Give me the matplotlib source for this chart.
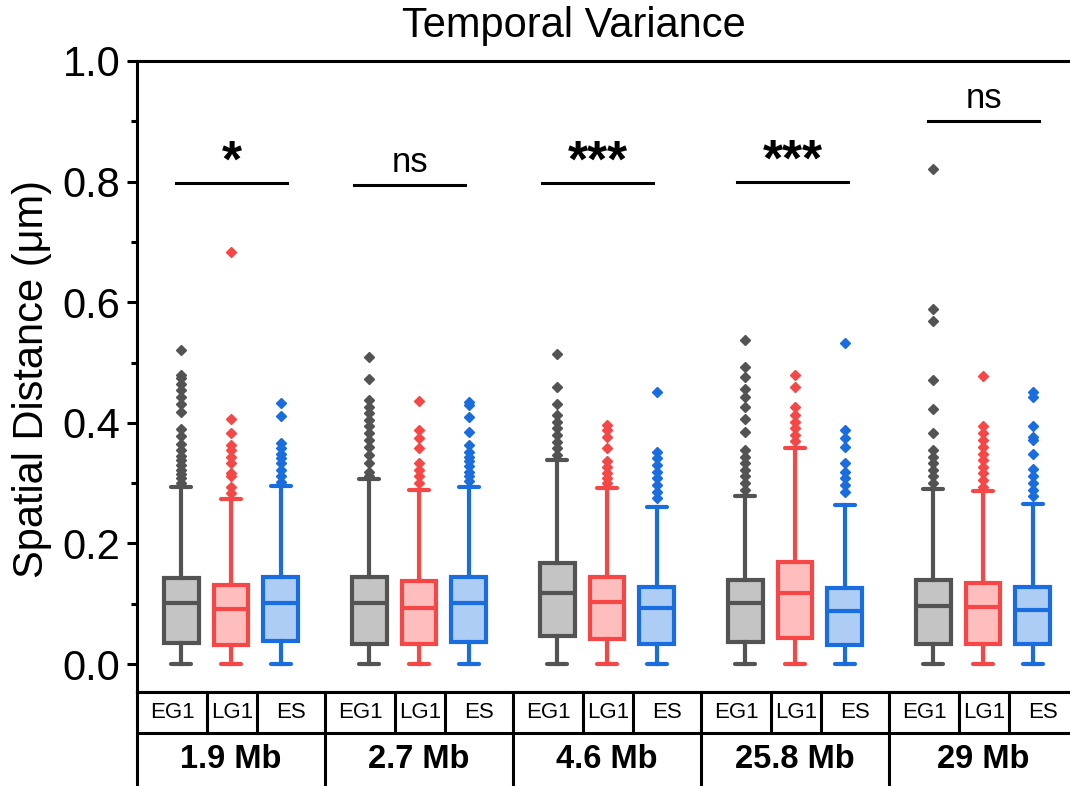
import matplotlib
matplotlib.use("Agg")
import matplotlib.pyplot as plt

plt.rcParams['font.family'] = ['Liberation Sans', 'DejaVu Sans']

# regions and conditions
regions = ["1.9 Mb", "2.7 Mb", "4.6 Mb", "25.8 Mb", "29 Mb"]
conditions = ["EG1", "LG1", "ES"]

# box statistics (um), one row per region, order EG1, LG1, ES
q1 = [[0.035, 0.032, 0.039],
      [0.034, 0.033, 0.037],
      [0.046, 0.041, 0.034],
      [0.037, 0.043, 0.032],
      [0.034, 0.033, 0.033]]
med = [[0.102, 0.091, 0.102],
       [0.102, 0.093, 0.102],
       [0.117, 0.103, 0.093],
       [0.102, 0.117, 0.088],
       [0.096, 0.095, 0.090]]
q3 = [[0.142, 0.131, 0.144],
      [0.145, 0.137, 0.144],
      [0.167, 0.145, 0.128],
      [0.140, 0.169, 0.126],
      [0.139, 0.135, 0.128]]
whis_hi = [[0.293, 0.274, 0.295],
           [0.306, 0.289, 0.294],
           [0.339, 0.292, 0.261],
           [0.279, 0.358, 0.264],
           [0.291, 0.287, 0.266]]
whis_lo = [[0.0, 0.0, 0.0],
           [0.0, 0.0, 0.0],
           [0.0, 0.0, 0.0],
           [0.0, 0.0, 0.0],
           [0.0, 0.0, 0.0]]

# outliers
fliers = [
    [[0.521, 0.479, 0.474, 0.465, 0.455, 0.443, 0.432, 0.418, 0.39, 0.378, 0.365,
      0.355, 0.345, 0.338, 0.33, 0.322, 0.315, 0.308, 0.30],
     [0.683, 0.406, 0.383, 0.363, 0.355, 0.344, 0.333, 0.316, 0.311, 0.294, 0.283],
     [0.433, 0.411, 0.366, 0.358, 0.349, 0.341, 0.333, 0.322, 0.311, 0.302]],
    [[0.509, 0.472, 0.438, 0.427, 0.416, 0.405, 0.394, 0.383, 0.371, 0.36, 0.347,
      0.333, 0.319, 0.312],
     [0.436, 0.388, 0.374, 0.358, 0.333, 0.322, 0.311, 0.30],
     [0.435, 0.43, 0.41, 0.384, 0.363, 0.352, 0.344, 0.336, 0.328, 0.319, 0.311, 0.303]],
    [[0.514, 0.46, 0.432, 0.413, 0.402, 0.391, 0.38, 0.369, 0.358, 0.347],
     [0.396, 0.388, 0.377, 0.358, 0.336, 0.327, 0.316, 0.308, 0.30],
     [0.451, 0.352, 0.341, 0.33, 0.319, 0.308, 0.297, 0.286, 0.275]],
    [[0.538, 0.492, 0.476, 0.456, 0.443, 0.427, 0.407, 0.385, 0.355, 0.344, 0.333,
      0.322, 0.311, 0.30, 0.289],
     [0.479, 0.46, 0.427, 0.413, 0.402, 0.391, 0.38, 0.37],
     [0.533, 0.388, 0.374, 0.36, 0.333, 0.319, 0.308, 0.297, 0.286]],
    [[0.821, 0.589, 0.569, 0.471, 0.423, 0.383, 0.355, 0.344, 0.333, 0.322, 0.311, 0.30],
     [0.478, 0.394, 0.383, 0.371, 0.36, 0.349, 0.338, 0.327, 0.316, 0.305, 0.294],
     [0.451, 0.443, 0.394, 0.377, 0.371, 0.349, 0.324, 0.311, 0.30, 0.289, 0.278]],
]

# significance marks
sig_labels = ["*", "ns", "***", "***", "ns"]
sig_y = [0.798, 0.795, 0.798, 0.800, 0.900]
sig_shift = [0.005, -0.05, -0.05, -0.013, 0.003]

edge_colors = ["#535353", "#F64646", "#1A6DDE"]
face_colors = ["#C4C4C4", "#FFBEBE", "#AECDF5"]
offsets = [-0.265, 0.0, 0.265]

fig = plt.figure(figsize=(10.7, 7.86), dpi=100)
ax = fig.add_axes([137 / 1070, 94 / 786, 940 / 1070, 631 / 786])

for g in range(len(regions)):
    for c in range(len(conditions)):
        stats = [{
            "med": med[g][c], "q1": q1[g][c], "q3": q3[g][c],
            "whislo": whis_lo[g][c], "whishi": whis_hi[g][c],
            "fliers": fliers[g][c],
        }]
        col = edge_colors[c]
        ax.bxp(stats, positions=[g + 0.5 + offsets[c]], widths=0.186,
               patch_artist=True, capwidths=0.106, manage_ticks=False,
               boxprops=dict(facecolor=face_colors[c], edgecolor=col, linewidth=3),
               medianprops=dict(color=col, linewidth=3),
               whiskerprops=dict(color=col, linewidth=3),
               capprops=dict(color=col, linewidth=3, solid_capstyle="round"),
               flierprops=dict(marker="D", markerfacecolor=col, markeredgecolor=col,
                               markersize=5.2, linestyle="none"))

for g in range(len(regions)):
    xc = g + 0.5 + sig_shift[g]
    ax.plot([xc - 0.295, xc + 0.295], [sig_y[g], sig_y[g]], color="black", lw=2.2)
    if "*" in sig_labels[g]:
        ax.text(xc, sig_y[g] - 0.008, sig_labels[g], ha="center", va="bottom",
                fontsize=37, fontweight="bold")
    else:
        ax.text(xc, sig_y[g] + 0.01, sig_labels[g], ha="center", va="bottom",
                fontsize=25)

ax.set_xlim(0, len(regions))
ax.set_ylim(-0.0464, 1.0)
ax.set_yticks([0.0, 0.2, 0.4, 0.6, 0.8, 1.0])
ax.set_yticks([0.1, 0.3, 0.5, 0.7, 0.9], minor=True)
ax.set_yticklabels(["0.0", "0.2", "0.4", "0.6", "0.8", "1.0"])
ax.tick_params(axis="y", which="major", direction="out", length=7, width=2.2,
               labelsize=30, pad=5)
ax.tick_params(axis="y", which="minor", direction="out", length=4.5, width=2.2)
ax.tick_params(axis="x", bottom=False, labelbottom=False)
for s in ["left", "top", "bottom"]:
    ax.spines[s].set_linewidth(2.2)
ax.spines["right"].set_visible(False)

fig.text(32 / 1070, 0.518, "Spatial Distance (\u03bcm)", rotation=90,
         ha="center", va="center", fontsize=30)
fig.text(574 / 1070, 1 - 26 / 786, "Temporal Variance", ha="center", va="center",
         fontsize=30)

# table below the axes
tab = fig.add_axes([137 / 1070, 0, 940 / 1070, 94 / 786])
tab.set_xlim(0, len(regions))
tab.set_ylim(0, 94)
tab.set_xticks([])
tab.set_yticks([])
tab.spines["bottom"].set_visible(False)
tab.spines["right"].set_visible(False)
for s in ["left", "top"]:
    tab.spines[s].set_linewidth(2.2)
tab.axhline(53, color="black", lw=2.2)
cell_edges = [0.372, 0.64]
cell_centers = [0.186, 0.506, 0.82]
for g in range(len(regions)):
    if g > 0:
        tab.plot([g, g], [0, 94], color="black", lw=2.2)
    for e in cell_edges:
        tab.plot([g + e, g + e], [53, 94], color="black", lw=2.2)
    for c in range(len(conditions)):
        tab.text(g + cell_centers[c], 73.5, conditions[c], ha="center", va="center",
                 fontsize=16)
    tab.text(g + 0.5, 26.5, regions[g], ha="center", va="center", fontsize=23.5,
             fontweight="bold")

fig.savefig("out.png", dpi=100)
